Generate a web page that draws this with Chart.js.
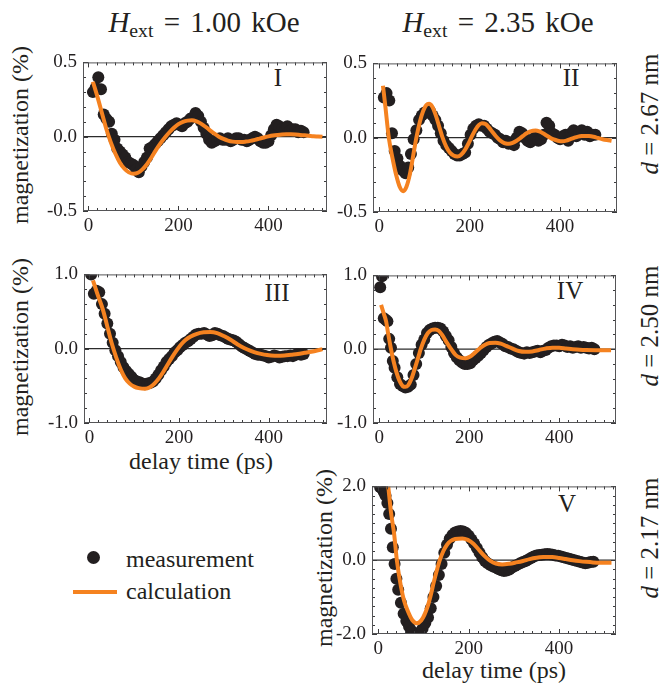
<!DOCTYPE html>
<html><head><meta charset="utf-8">
<script src="https://cdn.jsdelivr.net/npm/chart.js@4/dist/chart.umd.min.js"></script>
<style>
html,body{margin:0;padding:0;background:#fff;}
body{width:663px;height:688px;position:relative;overflow:hidden;font-family:"Liberation Serif","Times New Roman",serif;color:#231f20;}
canvas{position:absolute;}
.t{position:absolute;white-space:nowrap;line-height:1;transform:translate(-50%,-50%);font-family:"Liberation Serif",serif;}
.r{transform:translate(-50%,-50%) rotate(-90deg);}
.tex{font-size:29px;word-spacing:3px;}
.tex2{font-size:25px;}
.lab{font-size:24px;}
.num{font-size:25px;}
sub{font-size:0.68em;vertical-align:-0.28em;line-height:0;}
.leg{position:absolute;font-size:24px;line-height:1;white-space:nowrap;transform:translateY(-50%);font-family:"Liberation Serif",serif;}
</style></head><body>

<div class="t tex" style="left:204px;top:22px;"><i>H</i><sub>ext</sub> = 1.00 kOe</div>
<div class="t tex" style="left:498px;top:22px;"><i>H</i><sub>ext</sub> = 2.35 kOe</div>

<div class="t tex2 r" style="left:649px;top:114px;"><i>d</i> = 2.67 nm</div>
<div class="t tex2 r" style="left:649px;top:326px;"><i>d</i> = 2.50 nm</div>
<div class="t tex2 r" style="left:649px;top:538px;"><i>d</i> = 2.17 nm</div>

<div class="t lab r" style="left:20px;top:135px;">magnetization (%)</div>
<div class="t lab r" style="left:20px;top:347px;">magnetization (%)</div>
<div class="t lab r" style="left:324px;top:558px;">magnetization (%)</div>

<div class="t lab" style="left:201px;top:461px;">delay time (ps)</div>
<div class="t lab" style="left:494px;top:670px;">delay time (ps)</div>

<div class="t num" style="left:278px;top:77px;">I</div>
<div class="t num" style="left:571px;top:77px;">II</div>
<div class="t num" style="left:277px;top:292px;">III</div>
<div class="t num" style="left:570px;top:290px;">IV</div>
<div class="t num" style="left:567px;top:503px;">V</div>

<div style="position:absolute;left:87px;top:551px;width:13px;height:13px;border-radius:50%;background:#231f20;"></div>
<div class="leg" style="left:126px;top:559px;">measurement</div>
<div style="position:absolute;left:73px;top:590px;width:44px;height:4px;background:#f58220;"></div>
<div class="leg" style="left:126px;top:591px;">calculation</div>

<script>
// ---------- tick labels ----------
const xTickVals = [0, 200, 400];
const yTicksSmall = [-0.5, 0.0, 0.5];
const yTicksMid = [-1.0, 0.0, 1.0];
const yTicksLarge = [-2.0, 0.0, 2.0];

// ---------- measurement delay times (ps) ----------
const delayGrid = [10,16,22,28,34,40,46,52,58,64, 70,76,82,88,94,100,106,112,118,124,
  130,136,142,148,154,160,166,172,178,184, 190,196,202,208,214,220,226,232,238,244,
  250,256,262,268,274,280,286,292,298,304, 310,316,322,328,334,340,346,352,358,364,
  370,376,382,388,394,400,406,412,418,424, 430,436,442,448,454,460,466,472,478];
const delayIII = [4, ...delayGrid];
const delayIV = [2,6,10,14,18,22,26,30,34, ...delayGrid.slice(5)];
const delayV = [4,8,12,16,20,24,28,32,36,40,44,
  50,56,62,68,74,80,86,92,98,104, 110,116,122,128,134,140,146,152,158,164,
  170,176,182,188,194,200,206,212,218,224, 230,236,242,248,254,260,266,272,278,284,
  290,296,302,308,314,320,326,332,338,344, 350,356,362,368,374,380,386,392,398,404,
  410,416,422,428,434,440,446,452,458,464, 470,476];

// ---------- measurement values (%) ----------
const measI = [0.30,0.33,0.40,0.32,0.15,0.12,0.10,0.02,-0.02,-0.08,
  -0.10,-0.12,-0.14,-0.17,-0.18,-0.19,-0.22,-0.24,-0.20,-0.17,
  -0.14,-0.08,-0.07,-0.05,-0.03,-0.01,0.01,0.03,0.05,0.07,
  0.08,0.09,0.08,0.07,0.09,0.10,0.12,0.13,0.16,0.14,
  0.10,0.06,0.02,-0.02,-0.04,-0.03,-0.02,-0.01,-0.02,-0.02,
  -0.01,-0.03,-0.02,-0.01,-0.01,-0.02,-0.02,-0.03,-0.02,-0.01,
  0.00,-0.01,-0.03,-0.04,-0.04,-0.03,0.01,0.05,0.08,0.07,
  0.05,0.04,0.07,0.04,0.05,0.05,0.03,0.04,0.03];
const measII = [0.27,0.30,0.25,0.03,-0.09,-0.14,-0.19,-0.22,-0.24,-0.20,
  -0.11,-0.01,0.05,0.12,0.15,0.17,0.17,0.18,0.15,0.12,
  0.08,0.03,-0.02,-0.05,-0.07,-0.09,-0.11,-0.12,-0.12,-0.11,
  -0.10,-0.04,0.02,0.06,0.08,0.09,0.08,0.08,0.06,0.04,
  0.03,0.02,0.00,-0.01,-0.03,-0.02,-0.04,-0.03,-0.05,0.00,
  0.04,0.03,0.00,-0.02,-0.03,-0.01,0.01,-0.02,-0.01,0.02,
  0.10,0.08,0.03,0.02,0.00,-0.01,0.01,0.02,-0.02,0.03,
  0.05,0.01,0.03,0.05,0.02,0.04,0.01,0.02,0.02];
const measIII = [1.00,
  0.74,0.78,0.76,0.60,0.47,0.34,0.20,0.08,-0.02,-0.10,
  -0.18,-0.25,-0.30,-0.34,-0.38,-0.42,-0.44,-0.45,-0.47,-0.48,
  -0.47,-0.46,-0.44,-0.40,-0.35,-0.29,-0.24,-0.18,-0.14,-0.10,
  -0.05,-0.02,0.02,0.05,0.08,0.10,0.13,0.16,0.19,0.20,
  0.20,0.21,0.19,0.17,0.18,0.21,0.20,0.18,0.17,0.15,
  0.13,0.12,0.11,0.09,0.06,0.03,0.01,-0.01,-0.03,-0.05,
  -0.07,-0.08,-0.08,-0.09,-0.10,-0.12,-0.11,-0.09,-0.10,-0.12,
  -0.11,-0.10,-0.10,-0.09,-0.10,-0.08,-0.07,-0.08,-0.07];
const measIV = [0.84,0.99,0.42,0.40,0.38,0.14,0.02,-0.16,-0.25,
  -0.38,-0.47,-0.50,-0.52,-0.51,-0.48,-0.35,-0.20,-0.05,
  0.06,0.13,0.22,0.26,0.28,0.29,0.29,0.28,0.24,0.18,
  0.12,0.03,-0.05,-0.11,-0.15,-0.18,-0.20,-0.20,-0.19,-0.15,
  -0.12,-0.09,-0.05,-0.01,0.03,0.06,0.08,0.10,0.11,0.09,
  0.07,0.04,0.03,0.01,0.00,-0.02,-0.04,-0.05,-0.06,-0.04,
  -0.05,-0.04,-0.03,-0.02,-0.04,-0.02,-0.01,0.02,0.04,0.05,
  0.05,0.04,0.06,0.05,0.03,0.04,0.02,0.03,0.04,0.02,
  0.03,0.02,0.01,0.02,0.00];
const measV = [1.98,1.95,1.85,1.75,1.55,1.25,0.85,0.35,-0.10,-0.50,-0.80,
  -1.15,-1.45,-1.65,-1.80,-1.92,-2.00,-2.02,-1.95,-1.85,-1.70,
  -1.55,-1.30,-1.00,-0.70,-0.40,-0.10,0.20,0.42,0.58,0.68,
  0.75,0.78,0.79,0.78,0.74,0.66,0.56,0.45,0.33,0.20,
  0.08,-0.02,-0.08,-0.13,-0.17,-0.20,-0.24,-0.27,-0.29,-0.28,
  -0.25,-0.20,-0.16,-0.12,-0.08,-0.05,-0.02,0.02,0.06,0.10,
  0.13,0.14,0.15,0.16,0.17,0.16,0.15,0.13,0.12,0.10,
  0.08,0.06,0.04,0.02,0.00,-0.02,-0.04,-0.06,-0.08,-0.07,
  -0.05,-0.04];

// ---------- calculation curves ----------
const calcTI = [10,20,30,40,50,60,70,80,90,100,110,120,130,140,150,160,170,180,190,200,
  210,220,230,240,250,260,270,280,290,300,310,320,330,340,350,360,370,380,390,400,
  410,420,430,440,450,460,470,480,490,500,510,520];
const calcMI = [0.37,0.27,0.16,0.05,-0.04,-0.115,-0.175,-0.215,-0.24,-0.25,
  -0.243,-0.22,-0.185,-0.14,-0.09,-0.045,-0.005,0.03,0.06,0.085,
  0.10,0.108,0.11,0.103,0.088,0.067,0.043,0.02,0.0,-0.015,
  -0.026,-0.033,-0.036,-0.036,-0.033,-0.028,-0.021,-0.013,-0.005,0.002,
  0.008,0.012,0.015,0.016,0.016,0.015,0.012,0.009,0.006,0.003,0.001,-0.001];
const calcTII = [8,13,21,30,38,45,53,60,68,75,82,90,97,104,110,117,125,133,140,148,
  156,164,173,181,190,198,205,213,220,227,235,243,250,258,266,273,280,287,295,303,
  310,318,325,333,340,346,354,362,370,378,386,395,405,414,423,432,440,448,456,464,
  474,484,494,504,514];
const calcMII = [0.35,0.22,0.0,-0.15,-0.26,-0.33,-0.36,-0.33,-0.24,-0.12,
  0.0,0.11,0.18,0.22,0.228,0.21,0.15,0.07,0.0,-0.06,
  -0.10,-0.12,-0.127,-0.115,-0.08,-0.035,0.01,0.055,0.085,0.098,
  0.092,0.068,0.04,0.01,-0.015,-0.03,-0.039,-0.041,-0.035,-0.022,
  -0.007,0.012,0.028,0.041,0.047,0.048,0.042,0.03,0.015,0.0,
  -0.012,-0.02,-0.024,-0.02,-0.01,0.0,0.007,0.011,0.012,0.011,
  0.006,-0.002,-0.01,-0.016,-0.021];
const calcTIII = [8,20,30,40,50,60,70,80,90,100,110,124,135,145,155,165,175,185,195,205,
  215,225,240,255,270,285,300,315,330,345,360,375,390,405,420,435,450,465,480,495,510,520];
const calcMIII = [0.92,0.70,0.53,0.30,0.07,-0.12,-0.28,-0.40,-0.47,-0.51,
  -0.53,-0.54,-0.52,-0.47,-0.40,-0.31,-0.21,-0.11,-0.02,0.06,
  0.12,0.16,0.20,0.22,0.225,0.21,0.17,0.12,0.06,0.01,
  -0.03,-0.06,-0.08,-0.09,-0.095,-0.09,-0.08,-0.07,-0.055,-0.04,-0.02,-0.005];
const calcTIV = [4,10,15,20,26,32,38,45,52,58,64,72,80,88,92,100,108,116,124,132,
  140,150,161,170,180,192,202,212,225,235,245,258,270,282,295,310,325,340,355,370,
  385,400,415,430,445,460,480,500,515];
const calcMIV = [0.60,0.48,0.38,0.20,0.0,-0.17,-0.31,-0.43,-0.50,-0.51,
  -0.49,-0.39,-0.24,-0.08,0.0,0.13,0.22,0.26,0.267,0.25,
  0.19,0.09,-0.01,-0.08,-0.115,-0.124,-0.10,-0.05,0.02,0.06,
  0.083,0.089,0.075,0.045,0.01,-0.025,-0.036,-0.03,-0.01,0.01,
  0.021,0.02,0.01,0.0,-0.008,-0.012,-0.013,-0.013,-0.013];
const calcTV = [22,28,35,41,50,57,65,75,85,95,102,109,116,123,130,136,144,152,160,170,
  186,198,211,224,237,248,260,274,290,305,320,335,350,365,373,385,400,415,430,445,
  460,475,495,516];
const calcMV = [2.0,1.3,0.71,0.0,-0.71,-1.1,-1.37,-1.62,-1.71,-1.63,
  -1.48,-1.26,-0.95,-0.58,-0.25,0.0,0.25,0.42,0.52,0.575,
  0.59,0.55,0.44,0.26,0.09,-0.02,-0.09,-0.115,-0.095,-0.06,
  -0.02,0.03,0.065,0.085,0.09,0.085,0.06,0.03,0.0,-0.025,
  -0.045,-0.06,-0.068,-0.07];

// ---------- styling ----------
const DOT = '#231f20';
const ORANGE = '#f58220';
Chart.defaults.font.family = 'Liberation Serif';

const framePlugin = {
  id: 'frame',
  beforeDatasetsDraw(chart) {
    const {ctx, chartArea: a, scales: {y}} = chart;
    const y0 = y.getPixelForValue(0);
    ctx.save();
    ctx.strokeStyle = '#2b2b2b'; ctx.lineWidth = 1.3;
    ctx.beginPath(); ctx.moveTo(a.left, y0); ctx.lineTo(a.right, y0); ctx.stroke();
    ctx.restore();
  },
  afterDatasetsDraw(chart, args, o) {
    const {ctx, chartArea: a, scales: {x, y}} = chart;
    ctx.save();
    ctx.strokeStyle = '#3a3a3c'; ctx.lineWidth = 1;
    ctx.beginPath();
    const isMaj = (v, list) => list.some(m => Math.abs(m - v) < 1e-6);
    for (let k = Math.ceil(x.min / o.xMinor); k * o.xMinor <= x.max; k++) {
      const v = k * o.xMinor, px = Math.round(x.getPixelForValue(v)) + 0.5;
      const L = isMaj(v, xTickVals) ? 5 : 3;
      ctx.moveTo(px, a.bottom); ctx.lineTo(px, a.bottom - L);
      ctx.moveTo(px, a.top); ctx.lineTo(px, a.top + L);
    }
    for (let k = Math.ceil(y.min / o.yMinor - 1e-9); k * o.yMinor <= y.max + 1e-9; k++) {
      const v = k * o.yMinor, py = Math.round(y.getPixelForValue(v)) + 0.5;
      const L = isMaj(v, o.yTicks) ? 5 : 3;
      ctx.moveTo(a.left, py); ctx.lineTo(a.left + L, py);
      ctx.moveTo(a.right, py); ctx.lineTo(a.right - L, py);
    }
    ctx.stroke();
    ctx.strokeStyle = '#555557';
    ctx.strokeRect(a.left + 0.5, a.top + 0.5, a.right - a.left - 1, a.bottom - a.top - 1);
    ctx.restore();
  }
};

function buildPanel(p) {
  const padL = 70, padT = 14, padR = 12, padB = 40;
  const w = p.box[2] - p.box[0] + padL + padR;
  const h = p.box[3] - p.box[1] + padT + padB;
  const cv = document.createElement('canvas');
  cv.width = w; cv.height = h;
  Object.assign(cv.style, {left: (p.box[0] - padL) + 'px', top: (p.box[1] - padT) + 'px', width: w + 'px', height: h + 'px'});
  document.body.appendChild(cv);
  new Chart(cv, {
    type: 'scatter',
    data: {datasets: [
      {label: 'calculation', data: p.calcT.map((t, i) => ({x: t, y: p.calcM[i]})),
       showLine: true, borderColor: ORANGE, borderWidth: 4, pointRadius: 0, pointHoverRadius: 0,
       cubicInterpolationMode: 'monotone', order: 0, clip: 0},
      {label: 'measurement', data: p.measT.map((t, i) => ({x: t, y: p.measM[i]})),
       pointRadius: 6, pointHoverRadius: 6, pointBackgroundColor: DOT, pointBorderWidth: 0,
       borderWidth: 0, order: 1, clip: 0}
    ]},
    options: {
      responsive: false, animation: false, devicePixelRatio: 1,
      layout: {padding: {left: 0, top: padT, right: padR, bottom: 0}},
      events: [],
      plugins: {legend: {display: false}, tooltip: {enabled: false},
        frame: {xMinor: 20, yMinor: p.yMinor, yTicks: p.yTicks}},
      scales: {
        x: {type: 'linear', min: p.xRange[0], max: p.xRange[1],
          afterFit: s => { s.height = padB; },
          afterBuildTicks: s => { s.ticks = xTickVals.map(v => ({value: v})); },
          grid: {display: false, drawTicks: false}, border: {display: false},
          ticks: {padding: 4, color: DOT, font: {size: 19}, maxRotation: 0, autoSkip: false,
            callback: v => String(v)}},
        y: {type: 'linear', min: p.yTicks[0], max: p.yTicks[p.yTicks.length - 1],
          afterFit: s => { s.width = padL; },
          afterBuildTicks: s => { s.ticks = p.yTicks.map(v => ({value: v})); },
          grid: {display: false, drawTicks: false}, border: {display: false},
          ticks: {padding: 6, color: DOT, font: {size: 19}, autoSkip: false,
            callback: v => Number(v).toFixed(1)}}
      }
    },
    plugins: [framePlugin]
  });
}

const LEFT_X = [-12, 530], RIGHT_X = [-14, 526];
buildPanel({box: [83, 59, 327, 211], xRange: LEFT_X, yTicks: yTicksSmall, yMinor: 0.1,
  measT: delayGrid, measM: measI, calcT: calcTI, calcM: calcMI});
buildPanel({box: [373, 60, 617, 212], xRange: RIGHT_X, yTicks: yTicksSmall, yMinor: 0.1,
  measT: delayGrid, measM: measII, calcT: calcTII, calcM: calcMII});
buildPanel({box: [84, 271, 327, 423], xRange: LEFT_X, yTicks: yTicksMid, yMinor: 0.2,
  measT: delayIII, measM: measIII, calcT: calcTIII, calcM: calcMIII});
buildPanel({box: [373, 272, 616, 423], xRange: RIGHT_X, yTicks: yTicksMid, yMinor: 0.2,
  measT: delayIV, measM: measIV, calcT: calcTIV, calcM: calcMIV});
buildPanel({box: [372, 483, 616, 634], xRange: RIGHT_X, yTicks: yTicksLarge, yMinor: 0.25,
  measT: delayV, measM: measV, calcT: calcTV, calcM: calcMV});
</script>
</body></html>
